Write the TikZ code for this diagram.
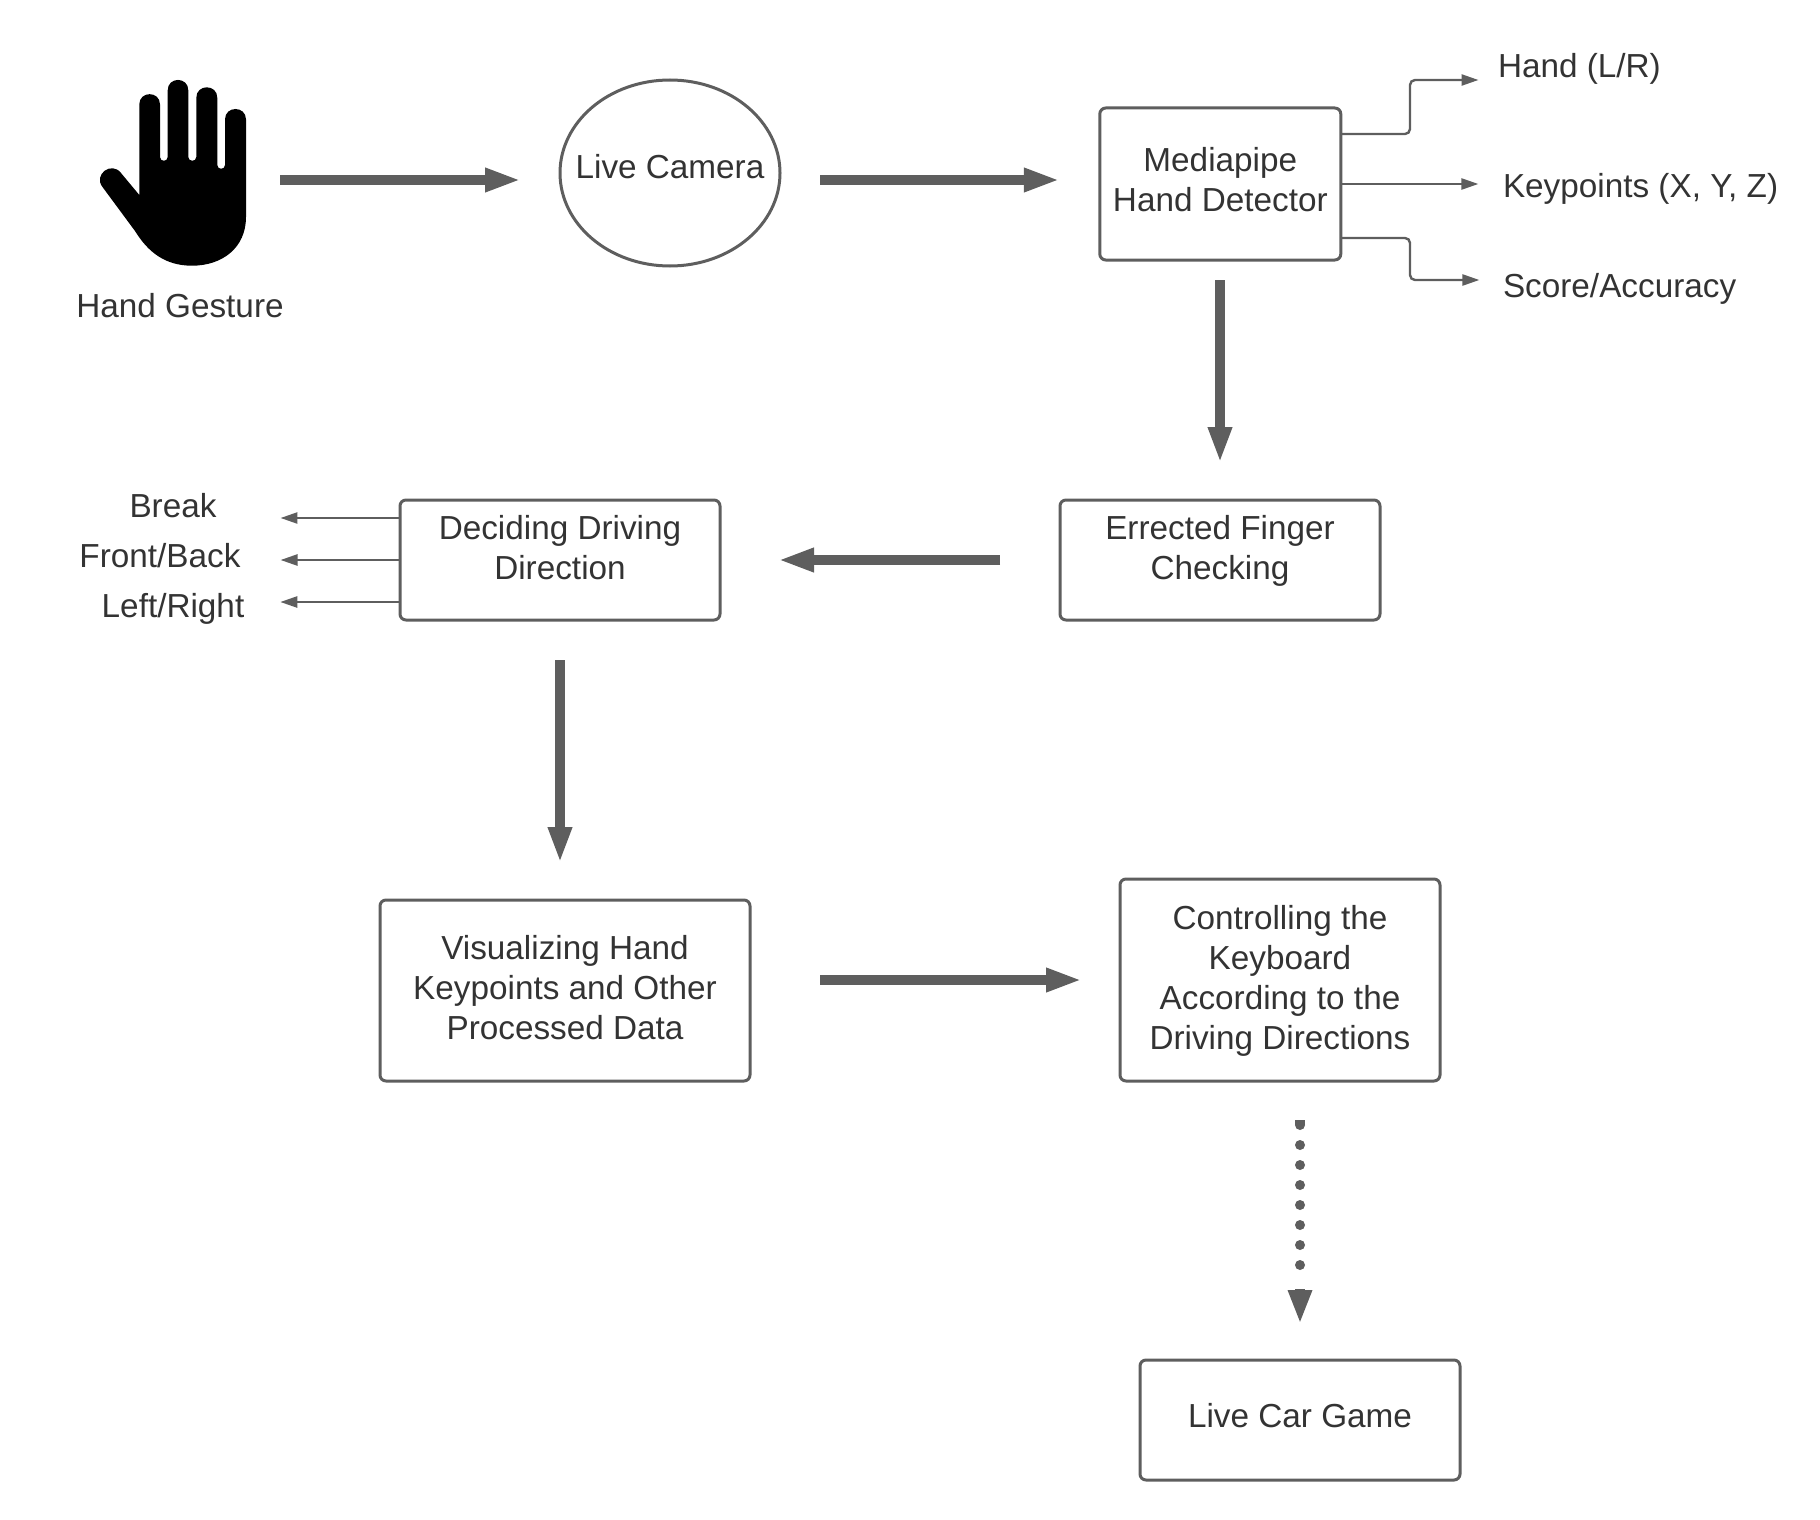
\documentclass[tikz,border=0pt]{standalone}
\usepackage{fontspec}
\setmainfont{Liberation Sans}
\usetikzlibrary{arrows.meta,shapes.geometric}
\definecolor{linegray}{HTML}{5E5E5E}
\definecolor{textgray}{HTML}{333333}
\newcommand{\shiftedtext}[2]{\raisebox{#1}[0pt][0pt]{\begin{tabular}[c]{@{}c@{}}#2\end{tabular}}}
\tikzset{
  every node/.style={font=\fontsize{16.65}{20}\selectfont,text=textgray,inner sep=0pt,outer sep=0pt},
  boxnode/.style={draw=linegray,line width=1.5pt,rounded corners=3pt,align=center},
  bigarrow/.style={draw=linegray,line width=5pt,-{Triangle[length=18pt,width=11pt]}},
  thinarrow/.style={draw=linegray,line width=1.2pt,rounded corners=2.5pt,-{Triangle[length=8.5pt,width=5.5pt]}},
  dotline/.style={draw=linegray,line width=5pt,line cap=round,dash pattern=on 0pt off 10pt},
  dottip/.style={draw=linegray,line width=5pt,-{Triangle[length=17pt,width=11pt]}},
  labeltext/.style={text height=12pt,text depth=3.5pt},
}
\begin{document}
\begin{tikzpicture}[x=0.5pt,y=-0.5pt]
\useasboundingbox (0,0) rectangle (1820,1520);
% hand icon
\fill[black]
  (139.3,195) -- (139.3,104.5) .. controls (139.3,90.7) and (160,90.7) .. (160,104.5)
  -- (160,157) .. controls (160,162) and (167.7,162) .. (167.7,157)
  -- (167.7,90.3) .. controls (167.7,76.5) and (188.3,76.5) .. (188.3,90.3)
  -- (188.3,157) .. controls (188.3,162) and (196.3,162) .. (196.3,157)
  -- (196.3,97.8) .. controls (196.3,83.8) and (217.3,83.8) .. (217.3,97.8)
  -- (217.3,165) .. controls (217.3,170) and (225,170) .. (225,165)
  -- (225,119.5) .. controls (225,105.5) and (246,105.5) .. (246,119.5)
  -- (246,217) .. controls (246,248) and (222,265.7) .. (192,265.7)
  .. controls (165,265.7) and (148,252) .. (135,231)
  -- (102.5,187) .. controls (93,174.7) and (111.5,160.7) .. (121,173) -- cycle;
\node[minimum width=73pt,minimum height=93pt] (hand) at (173,173) {};
\node[labeltext] (handlabel) at (180,308.5) {Hand Gesture};
\node[draw=linegray,line width=1.5pt,ellipse,minimum width=110pt,minimum height=93pt] (camera) at (670,173) {\makebox[0pt]{\raisebox{-2.9pt}[0pt][0pt]{Live Camera}}};
\node[boxnode,minimum width=120.5pt,minimum height=76pt] (mediapipe) at (1220.3,184) {\shiftedtext{-4.1pt}{Mediapipe\\Hand Detector}};
\node[labeltext,anchor=west] (handlr) at (1498,69) {Hand (L/R)};
\node[labeltext,anchor=west] (keypoints) at (1503,189.5) {Keypoints (X, Y, Z)};
\node[labeltext,anchor=west] (score) at (1503,288.5) {Score/Accuracy};
\node[boxnode,minimum width=160pt,minimum height=60pt] (errected) at (1220,560) {\shiftedtext{0.1pt}{Errected Finger\\Checking}};
\node[boxnode,minimum width=160pt,minimum height=60pt] (deciding) at (560,560) {\shiftedtext{0.1pt}{Deciding Driving\\Direction}};
\node[labeltext] (break) at (173,508.5) {Break};
\node[labeltext] (front) at (160,558.5) {Front/Back};
\node[labeltext] (left) at (173,608.5) {Left/Right};
\node[boxnode,minimum width=185pt,minimum height=90.5pt] (visual) at (565,990.5) {\shiftedtext{-4.9pt}{Visualizing Hand\\Keypoints and Other\\Processed Data}};
\node[boxnode,minimum width=160pt,minimum height=101pt] (ctrl) at (1280,980) {\shiftedtext{-4.9pt}{Controlling the\\Keyboard\\According to the\\Driving Directions}};
\node[boxnode,minimum width=160pt,minimum height=60pt] (car) at (1300,1420) {\shiftedtext{-3.9pt}{Live Car Game}};
% main flow
\draw[bigarrow,shorten <=17pt,shorten >=19.5pt] (hand.east |- 0,180) -- (camera.west |- 0,180);
\draw[bigarrow,shorten <=20pt,shorten >=20pt] (camera.east |- 0,180) -- (mediapipe.west |- 0,180);
\draw[bigarrow,shorten <=10pt,shorten >=18.5pt] (mediapipe.south -| errected.north) -- (errected.north);
\draw[bigarrow,shorten <=30pt,shorten >=29pt] (errected.west) -- (deciding.east);
\draw[bigarrow,shorten <=20pt,shorten >=18.5pt] (deciding.south) -- (deciding.south |- visual.north);
\draw[bigarrow,shorten <=35pt,shorten >=19pt] (visual.east |- ctrl.west) -- (ctrl.west);
% dotted connector: dots, flat top of the first dot, arrow tip
\draw[dotline,shorten <=22pt,shorten >=47pt] (ctrl.south -| car.north) -- (car.north);
\draw[draw=linegray,line width=5pt,shorten <=19.5pt,shorten >=117.5pt] (ctrl.south -| car.north) -- (car.north);
\draw[dottip,shorten <=104pt,shorten >=18pt] (ctrl.south -| car.north) -- (car.north);
% mediapipe outputs
\draw[thinarrow,shorten >=9.75pt] (mediapipe.east |- 0,134) -- (1410,134) -- (1410,80) -- (handlr.west |- 0,80);
\draw[thinarrow,shorten >=12.3pt] (mediapipe.east |- 0,184) -- (keypoints.west |- 0,184);
\draw[thinarrow,shorten >=11.8pt] (mediapipe.east |- 0,238) -- (1410,238) -- (1410,280) -- (score.west |- 0,280);
% direction outputs
\draw[thinarrow,shorten >=32pt] (deciding.west |- 0,518) -- (break.east |- 0,518);
\draw[thinarrow,shorten >=20pt] (deciding.west) -- (front.east |- deciding.west);
\draw[thinarrow,shorten >=18pt] (deciding.west |- 0,602) -- (left.east |- 0,602);
\end{tikzpicture}
\end{document}
